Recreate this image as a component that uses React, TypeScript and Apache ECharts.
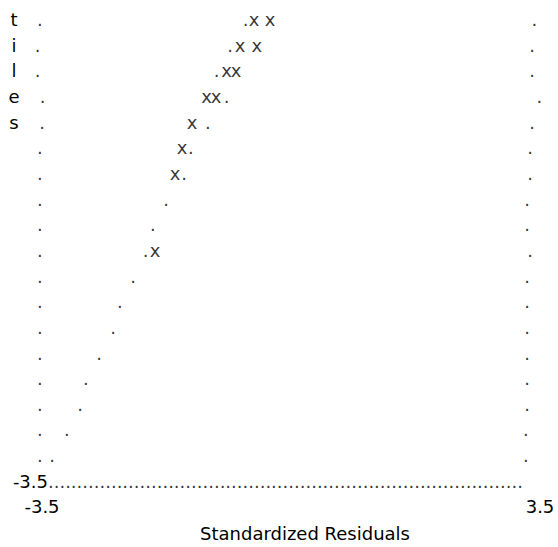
import React, { useEffect, useRef } from "react";
import * as echarts from "echarts";

// Rows of the text plot, top to bottom (percentile rows, 18 = top)
const rows = [18, 17, 16, 15, 14, 13, 12, 11, 10, 9, 8, 7, 6, 5, 4, 3, 2, 1];

// Left and right frame columns of periods (residual units, per row)
const leftFrameX = [-3.53, -3.56, -3.56, -3.49, -3.5, -3.53, -3.53, -3.53, -3.53, -3.53, -3.53, -3.53, -3.53, -3.53, -3.53, -3.53, -3.53, -3.53];
const rightFrameX = [3.42, 3.39, 3.39, 3.49, 3.39, 3.36, 3.36, 3.32, 3.32, 3.36, 3.32, 3.32, 3.32, 3.32, 3.32, 3.32, 3.3, 3.3];

// Reference (normal) line of periods, per row
const refLineX = [-0.637, -0.857, -1.044, -0.904, -1.167, -1.406, -1.504, -1.757, -1.94, -2.042, -2.221, -2.404, -2.502, -2.699, -2.882, -2.966, -3.149, -3.359];

// Observed standardized residuals ("x" marks)
const residualX = [-0.52, -0.295, -0.717, -0.482, -0.907, -0.773, -1.188, -1.054, -1.392, -1.532, -1.631, -1.912];
const residualRow = [18, 18, 17, 17, 16, 16, 15, 15, 14, 13, 12, 9];

// Bottom frame row (periods) start and length
const bottomFrameStart = -3.416;
const bottomFrameDots = 83;

// Axis tick values / labels
const xMin = -3.5;
const xMax = 3.5;
const xTickLabels = ["-3.5", "3.5"];
const yBottomLabel = "-3.5";
const xTitle = "Standardized Residuals";
const yTitle = "tiles";

const FONT = "DejaVu Sans";
const FS = 18;
const COLOR = "#000000";

export default function App() {
  const ref = useRef<HTMLDivElement>(null);

  useEffect(() => {
    if (!ref.current) return;
    const chart = echarts.init(ref.current, undefined, { renderer: "svg" });

    const charLabel = (ch: string) => ({
      show: true,
      position: "inside" as const,
      formatter: ch,
      fontFamily: FONT,
      fontSize: FS,
      color: COLOR,
      align: "center" as const,
      verticalAlign: "middle" as const,
    });

    const charSeries = (name: string, data: number[][], ch: string) => ({
      name,
      type: "scatter" as const,
      data,
      symbol: "circle",
      symbolSize: 0,
      clip: false,
      silent: true,
      itemStyle: { color: "transparent" },
      label: charLabel(ch),
    });

    const leftFrame = rows.map((r, i) => [leftFrameX[i], r]);
    const rightFrame = rows.map((r, i) => [rightFrameX[i], r]);
    const refLine = rows.map((r, i) => [refLineX[i], r]);
    const resid = residualX.map((x, i) => [x, residualRow[i]]);

    chart.setOption({
      animation: false,
      backgroundColor: "#ffffff",
      grid: {
        left: 42,
        right: 18,
        top: 19.5,
        bottom: 65.7,
        containLabel: false,
        outerBoundsMode: "none",
      },
      xAxis: {
        type: "value",
        min: xMin,
        max: xMax,
        interval: 3.5,
        axisLine: { show: false, onZero: false },
        axisTick: { show: false },
        splitLine: { show: false },
        axisLabel: {
          showMinLabel: true,
          showMaxLabel: true,
          margin: 25.2,
          verticalAlign: "middle",
          fontFamily: FONT,
          fontSize: FS,
          color: COLOR,
          formatter: (v: number) =>
            v === xMin ? xTickLabels[0] : v === xMax ? xTickLabels[1] : "",
        },
        name: xTitle,
        nameLocation: "middle",
        nameGap: 52,
        nameTextStyle: {
          fontFamily: FONT,
          fontSize: FS,
          color: COLOR,
          verticalAlign: "middle",
          padding: [0, 0, 0, 28],
        },
      },
      yAxis: {
        type: "value",
        min: 0,
        max: 18,
        interval: 18,
        axisLine: { show: false, onZero: false },
        axisTick: { show: false },
        splitLine: { show: false },
        axisLabel: {
          margin: -6,
          fontFamily: FONT,
          fontSize: FS,
          color: COLOR,
          verticalAlign: "middle",
          formatter: (v: number) => (v === 0 ? yBottomLabel : ""),
        },
        name: yTitle.split("").join("\n"),
        nameLocation: "end",
        nameGap: 12.86,
        nameTextStyle: {
          fontFamily: FONT,
          fontSize: FS,
          color: COLOR,
          align: "center",
          verticalAlign: "top",
          lineHeight: 25.71,
          padding: [0, 56, 0, 0],
        },
      },
      series: [
        charSeries("leftFrame", leftFrame, "."),
        charSeries("rightFrame", rightFrame, "."),
        charSeries("reference", refLine, "."),
        charSeries("residuals", resid, "x"),
        {
          name: "bottomFrame",
          type: "scatter",
          data: [[bottomFrameStart, 0]],
          symbol: "circle",
          symbolSize: 0,
          clip: false,
          silent: true,
          itemStyle: { color: "transparent" },
          label: {
            show: true,
            position: "right",
            distance: 0,
            formatter: ".".repeat(bottomFrameDots),
            fontFamily: FONT,
            fontSize: FS,
            color: COLOR,
            verticalAlign: "middle",
          },
        },
      ],
    });

    return () => chart.dispose();
  }, []);

  return (
    <div
      ref={ref}
      style={{ position: "absolute", left: 0, top: 0, width: 558, height: 547, background: "#fff" }}
    />
  );
}
